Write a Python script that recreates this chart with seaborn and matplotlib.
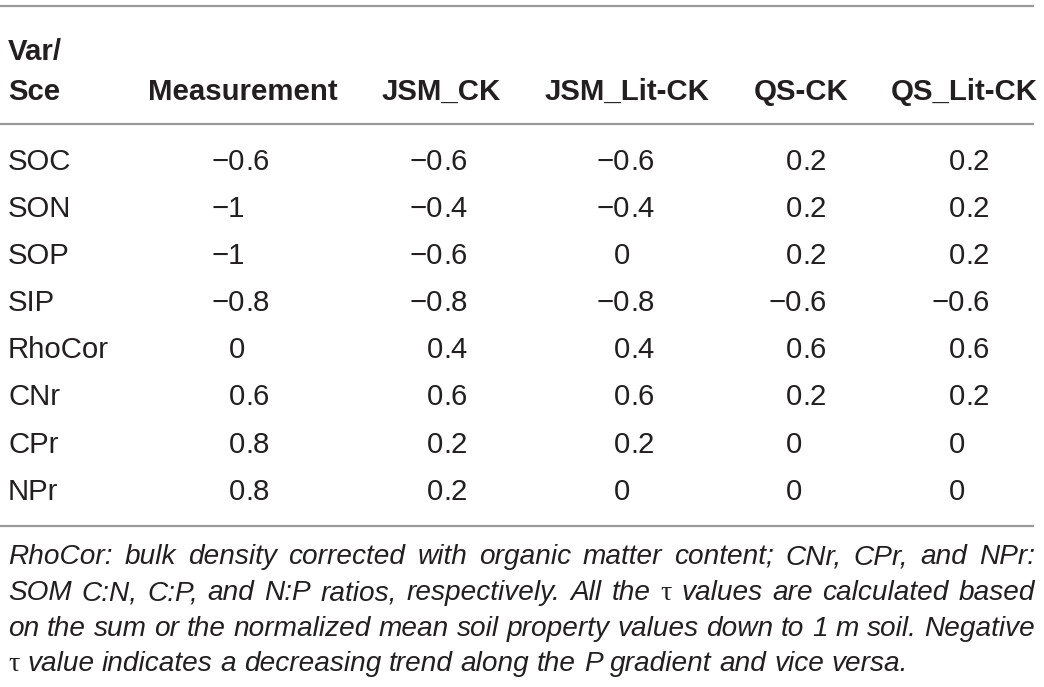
import matplotlib
matplotlib.use("Agg")
import matplotlib.pyplot as plt
import seaborn as sns

# ---------------- data ----------------
col_headers = ["Measurement", "JSM_CK", "JSM_Lit-CK", "QS-CK", "QS_Lit-CK"]
row_labels = ["SOC", "SON", "SOP", "SIP", "RhoCor", "CNr", "CPr", "NPr"]
measurement = ["−0.6", "−1", "−1", "−0.8", "0", "0.6", "0.8", "0.8"]
jsm_ck = ["−0.6", "−0.4", "−0.6", "−0.8", "0.4", "0.6", "0.2", "0.2"]
jsm_lit_ck = ["−0.6", "−0.4", "0", "−0.8", "0.4", "0.6", "0.2", "0"]
qs_ck = ["0.2", "0.2", "0.2", "−0.6", "0.6", "0.2", "0", "0"]
qs_lit_ck = ["0.2", "0.2", "0.2", "−0.6", "0.6", "0.2", "0", "0"]
footnote_lines = [
    "RhoCor: bulk density corrected with organic matter content; CNr, CPr, and NPr:",
    "SOM C:N, C:P, and N:P ratios, respectively. All the τ values are calculated based",
    "on the sum or the normalized mean soil property values down to 1 m soil. Negative",
    "τ value indicates a decreasing trend along the P gradient and vice versa.",
]
columns = [measurement, jsm_ck, jsm_lit_ck, qs_ck, qs_lit_ck]

# ---------------- style ----------------
sns.set_theme(style="white")
body_font = "Liberation Sans"
note_font = "Liberation Sans"
plt.rcParams["font.family"] = [body_font, "DejaVu Sans"]

TXT = "#231f20"
RULE = "#9a9a9a"
FS = 21.2

W, H = 1044, 687
fig = plt.figure(figsize=(W / 100, H / 100), dpi=100)
ax = fig.add_axes([0, 0, 1, 1])
ax.set_xlim(0, W)
ax.set_ylim(H, 0)
ax.axis("off")
renderer = fig.canvas.get_renderer()

# rules
for y in (6, 124, 526):
    ax.hlines(y, 0, 1034, color=RULE, lw=1.6)

# header
ax.text(8, 60, "Var/", fontsize=FS, fontweight="bold", color=TXT, ha="left", va="baseline")
ax.text(8, 100, "Sce", fontsize=FS, fontweight="bold", color=TXT, ha="left", va="baseline")
head_x = [243, 441, 627, 801, 964]
for hx, h in zip(head_x, col_headers):
    ax.text(hx, 100, h, fontsize=FS, fontweight="bold", color=TXT, ha="center", va="baseline")

# body
row_base = [170, 217, 264, 311, 358, 405, 453, 500]
dec_x = [245, 443, 630, 802, 965]
for yb, lab in zip(row_base, row_labels):
    ax.text(8, yb, lab, fontsize=FS, color=TXT, ha="left", va="baseline")
for dx, col in zip(dec_x, columns):
    for yb, v in zip(row_base, col):
        if "." in v:
            ip, fp = v.split(".")
            ax.text(dx, yb, ip, fontsize=FS, color=TXT, ha="right", va="baseline")
            ax.text(dx, yb, "." + fp, fontsize=FS, color=TXT, ha="left", va="baseline")
        else:
            ax.text(dx, yb, v, fontsize=FS, color=TXT, ha="right", va="baseline")

# footnote (justified)
def word_style(w):
    if w == "τ":
        return dict(family=["Liberation Serif", "DejaVu Serif"], style="normal")
    return dict(family=[note_font, "DejaVu Sans"], style="italic")

def measure(word, size):
    t = ax.text(0, 0, word, fontsize=size, **word_style(word))
    w = t.get_window_extent(renderer).width
    t.remove()
    return w

probe = 20
words_last = footnote_lines[-1].split(" ")
sp = measure("a a", probe) - 2 * measure("a", probe)
nat = sum(measure(w, probe) for w in words_last) + sp * (len(words_last) - 1)
NFS = probe * 895 / nat

note_base = [564, 600, 636, 671]
x0, x1 = 8, 1035
for i, (line, yb) in enumerate(zip(footnote_lines, note_base)):
    words = line.split(" ")
    widths = [measure(w, NFS) for w in words]
    if i < len(footnote_lines) - 1:
        gap = (x1 - x0 - sum(widths)) / (len(words) - 1)
    else:
        gap = measure("a a", NFS) - 2 * measure("a", NFS)
    x = x0
    for w, wd in zip(words, widths):
        ax.text(x, yb, w, fontsize=NFS, color=TXT, ha="left", va="baseline", **word_style(w))
        x += wd + gap

fig.savefig("out.png", dpi=100, facecolor="white")
